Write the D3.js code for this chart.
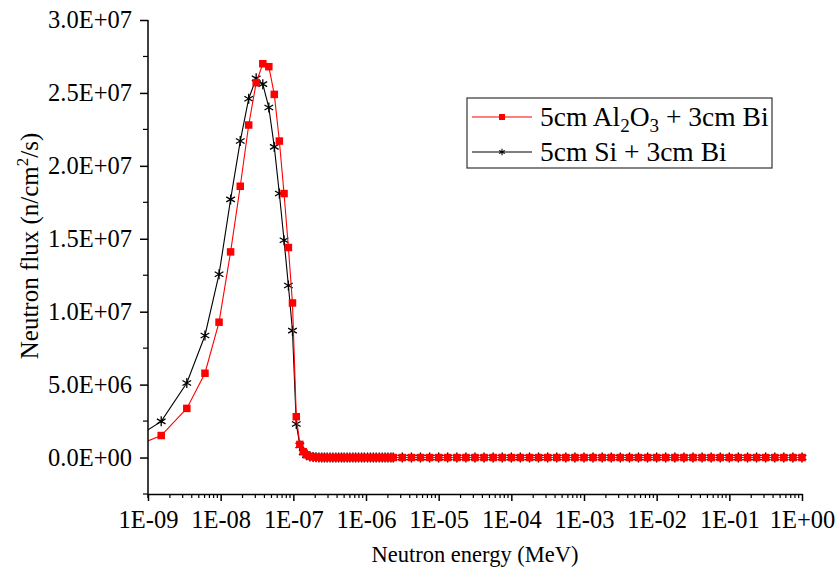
<!DOCTYPE html>
<html>
<head>
<meta charset="utf-8">
<script src="https://cdn.jsdelivr.net/npm/d3@7/dist/d3.min.js"></script>
<style>
  html, body { margin: 0; padding: 0; background: #fff; }
  svg { display: block; }
  text { font-family: "Liberation Serif", "Times New Roman", serif; fill: #000; }
</style>
</head>
<body>
<svg id="chart" width="839" height="571"></svg>
<script>
// ---------------- DATA ----------------
const energy = [
  3.8e-10, 1.52e-9, 3.42e-9, 6.08e-9, 9.5e-9, 1.37e-8, 1.86e-8, 2.43e-8, 3.08e-8, 3.8e-8,
  4.6e-8, 5.47e-8, 6.42e-8, 7.45e-8, 8.55e-8, 9.73e-8, 1.098e-7, 1.23e-7,
  1.37e-7, 1.52e-7, 1.69e-7, 1.87e-7, 2.05e-7, 2.25e-7, 2.46e-7, 2.68e-7, 2.92e-7, 3.2e-7,
  3.5e-7, 3.85e-7, 4.2e-7, 4.6e-7, 5.0e-7, 5.5e-7, 6.0e-7, 6.6e-7, 7.2e-7, 7.9e-7,
  8.7e-7, 9.5e-7, 1.05e-6, 1.15e-6, 1.26e-6, 1.38e-6, 1.52e-6, 1.67e-6, 1.83e-6, 2.0e-6, 2.2e-6,
  2.37e-6, 3.16e-6, 4.22e-6, 5.62e-6, 7.5e-6,
  1e-5, 1.33e-5, 1.78e-5, 2.37e-5, 3.16e-5, 4.22e-5, 5.62e-5, 7.5e-5,
  1e-4, 1.33e-4, 1.78e-4, 2.37e-4, 3.16e-4, 4.22e-4, 5.62e-4, 7.5e-4,
  1e-3, 1.33e-3, 1.78e-3, 2.37e-3, 3.16e-3, 4.22e-3, 5.62e-3, 7.5e-3,
  1e-2, 1.33e-2, 1.78e-2, 2.37e-2, 3.16e-2, 4.22e-2, 5.62e-2, 7.5e-2,
  1e-1, 1.33e-1, 1.78e-1, 2.37e-1, 3.16e-1, 4.22e-1, 5.62e-1, 7.5e-1,
  1
];
// 5cm Al2O3 + 3cm Bi
const fluxAl2O3 = [
  3.0e5, 1.51e6, 3.37e6, 5.78e6, 9.28e6, 1.41e7, 1.86e7, 2.28e7, 2.57e7, 2.70e7,
  2.68e7, 2.49e7, 2.17e7, 1.81e7, 1.44e7, 1.06e7, 2.8e6, 9.0e5,
  4.0e5, 1.9e5, 8.0e4, 4.0e4, 2.0e4, 1.0e4, 5.0e3, 2.0e3, 1.0e3, 0,
  0, 0, 0, 0, 0, 0, 0, 0, 0, 0,
  0, 0, 0, 0, 0, 0, 0, 0, 0, 0, 0,
  0, 0, 0, 0, 0,
  0, 0, 0, 0, 0, 0, 0, 0,
  0, 0, 0, 0, 0, 0, 0, 0,
  0, 0, 0, 0, 0, 0, 0, 0,
  0, 0, 0, 0, 0, 0, 0, 0,
  0, 0, 0, 0, 0, 0, 0, 0,
  0
];
// 5cm Si + 3cm Bi
const fluxSi = [
  5.3e5, 2.48e6, 5.11e6, 8.37e6, 1.257e7, 1.77e7, 2.17e7, 2.46e7, 2.60e7, 2.56e7,
  2.40e7, 2.13e7, 1.81e7, 1.49e7, 1.18e7, 8.7e6, 2.3e6, 8.3e5,
  3.5e5, 1.6e5, 7.0e4, 3.5e4, 1.8e4, 9.0e3, 4.0e3, 2.0e3, 1.0e3, 0,
  0, 0, 0, 0, 0, 0, 0, 0, 0, 0,
  0, 0, 0, 0, 0, 0, 0, 0, 0, 0, 0,
  0, 0, 0, 0, 0,
  0, 0, 0, 0, 0, 0, 0, 0,
  0, 0, 0, 0, 0, 0, 0, 0,
  0, 0, 0, 0, 0, 0, 0, 0,
  0, 0, 0, 0, 0, 0, 0, 0,
  0, 0, 0, 0, 0, 0, 0, 0,
  0
];
const xTickValues = [1e-9, 1e-8, 1e-7, 1e-6, 1e-5, 1e-4, 1e-3, 1e-2, 1e-1, 1];
const xTickLabels = ["1E-09", "1E-08", "1E-07", "1E-06", "1E-05", "1E-04", "1E-03", "1E-02", "1E-01", "1E+00"];
const yTickValues = [0, 5e6, 1e7, 1.5e7, 2e7, 2.5e7, 3e7];
const yTickLabels = ["0.0E+00", "5.0E+06", "1.0E+07", "1.5E+07", "2.0E+07", "2.5E+07", "3.0E+07"];
const yMinorValues = [-2.5e6, 2.5e6, 7.5e6, 1.25e7, 1.75e7, 2.25e7, 2.75e7];

// ---------------- LAYOUT ----------------
const svg = d3.select("#chart");
const L = 148, R = 802, T = 20, B = 494;
const x = d3.scaleLog().domain([1e-9, 1]).range([L, R]);
const y = d3.scaleLinear().domain([-2.5e6, 3e7]).range([B, T]);

const series = [
  { name: "si", values: fluxSi, color: "#000000", marker: "star" },
  { name: "al", values: fluxAl2O3, color: "#ff0000", marker: "square" }
];

svg.append("defs").append("clipPath").attr("id", "plotclip")
  .append("rect").attr("x", L).attr("y", T - 10).attr("width", R - L + 10).attr("height", B - T + 10);

const plot = svg.append("g").attr("clip-path", "url(#plotclip)");

const line = d3.line().x(d => x(d[0])).y(d => y(d[1]));

function starPath(r) {
  let p = "";
  for (let k = 0; k < 3; k++) {
    const a = Math.PI / 2 + k * Math.PI / 3;
    const dx = r * Math.cos(a), dy = r * Math.sin(a);
    p += `M${-dx},${-dy}L${dx},${dy}`;
  }
  return p;
}

series.forEach(s => {
  const pts = energy.map((e, i) => [e, s.values[i]]);
  plot.append("path").datum(pts)
    .attr("d", line).attr("fill", "none")
    .attr("stroke", s.color).attr("stroke-width", 1.1);
  const g = plot.append("g");
  const vis = pts.filter(d => d[0] >= 1e-9);
  if (s.marker === "square") {
    g.selectAll("rect").data(vis).join("rect")
      .attr("x", d => x(d[0]) - 3.75).attr("y", d => y(d[1]) - 3.75)
      .attr("width", 7.5).attr("height", 7.5).attr("fill", s.color);
  } else {
    g.selectAll("path").data(vis).join("path")
      .attr("transform", d => `translate(${x(d[0])},${y(d[1])})`)
      .attr("d", starPath(5)).attr("stroke", s.color).attr("stroke-width", 1.3).attr("fill", "none");
  }
});

// ---------------- AXES ----------------
const FONT = "Liberation Serif";
// x axis
const xAxis = d3.axisBottom(x)
  .tickValues(xTickValues)
  .tickFormat((d, i) => xTickLabels[i])
  .tickSizeInner(7).tickSizeOuter(0).tickPadding(10);
const gx = svg.append("g").attr("transform", `translate(0,${B})`).call(xAxis)
  .attr("font-family", FONT);
gx.select(".domain").attr("stroke", "#000").attr("stroke-width", 1.5);
gx.selectAll(".tick line").attr("stroke", "#000").attr("stroke-width", 1.5);
gx.selectAll(".tick text").attr("font-size", 24.5).attr("font-family", FONT);

const xMinor = [];
xTickValues.slice(0, -1).forEach(v => { for (let k = 2; k <= 9; k++) xMinor.push(v * k); });
svg.append("g").selectAll("line").data(xMinor).join("line")
  .attr("x1", d => x(d)).attr("x2", d => x(d))
  .attr("y1", B).attr("y2", B + 4)
  .attr("stroke", "#000").attr("stroke-width", 1.2);

// y axis
const yAxis = d3.axisLeft(y)
  .tickValues(yTickValues)
  .tickFormat((d, i) => yTickLabels[i])
  .tickSizeInner(8).tickSizeOuter(0).tickPadding(8);
const gy = svg.append("g").attr("transform", `translate(${L},0)`).call(yAxis)
  .attr("font-family", FONT);
gy.select(".domain").attr("stroke", "#000").attr("stroke-width", 1.5)
  .attr("d", `M0,${T}V${B + 4}`);
gy.selectAll(".tick line").attr("stroke", "#000").attr("stroke-width", 1.5);
gy.selectAll(".tick text").attr("font-size", 24.5).attr("font-family", FONT);

svg.append("g").selectAll("line").data(yMinorValues).join("line")
  .attr("x1", L - 5).attr("x2", L)
  .attr("y1", d => y(d)).attr("y2", d => y(d))
  .attr("stroke", "#000").attr("stroke-width", 1.2);

// axis titles
svg.append("text")
  .attr("x", 475).attr("y", 562)
  .attr("text-anchor", "middle").attr("font-size", 22.5)
  .text("Neutron energy (MeV)");

const yt = svg.append("text")
  .attr("transform", `translate(38,246) rotate(-90)`)
  .attr("text-anchor", "middle").attr("font-size", 25);
yt.append("tspan").text("Neutron flux (n/cm");
yt.append("tspan").attr("font-size", 17).attr("dy", -10).text("2");
yt.append("tspan").attr("dy", 10).text("/s)");

// ---------------- LEGEND ----------------
const lg = svg.append("g");
lg.append("rect").attr("x", 467).attr("y", 98).attr("width", 305).attr("height", 70)
  .attr("fill", "#fff").attr("stroke", "#333").attr("stroke-width", 1.2);

// row 1
lg.append("line").attr("x1", 472).attr("x2", 532).attr("y1", 117).attr("y2", 117)
  .attr("stroke", "#ff0000").attr("stroke-width", 1.1);
lg.append("rect").attr("x", 502 - 3).attr("y", 117 - 3).attr("width", 6).attr("height", 6).attr("fill", "#ff0000");
const t1 = lg.append("text").attr("x", 540).attr("y", 126).attr("font-size", 27.5);
t1.append("tspan").text("5cm Al");
t1.append("tspan").attr("font-size", 19).attr("dy", 6).text("2");
t1.append("tspan").attr("dy", -6).text("O");
t1.append("tspan").attr("font-size", 19).attr("dy", 6).text("3");
t1.append("tspan").attr("dy", -6).text(" + 3cm Bi");

// row 2
lg.append("line").attr("x1", 472).attr("x2", 532).attr("y1", 152).attr("y2", 152)
  .attr("stroke", "#000").attr("stroke-width", 1.1);
lg.append("path").attr("transform", "translate(502,152)").attr("d", starPath(3.2))
  .attr("stroke", "#000").attr("stroke-width", 1.1).attr("fill", "none");
lg.append("text").attr("x", 540).attr("y", 161).attr("font-size", 27.5).text("5cm Si + 3cm Bi");
</script>
</body>
</html>
